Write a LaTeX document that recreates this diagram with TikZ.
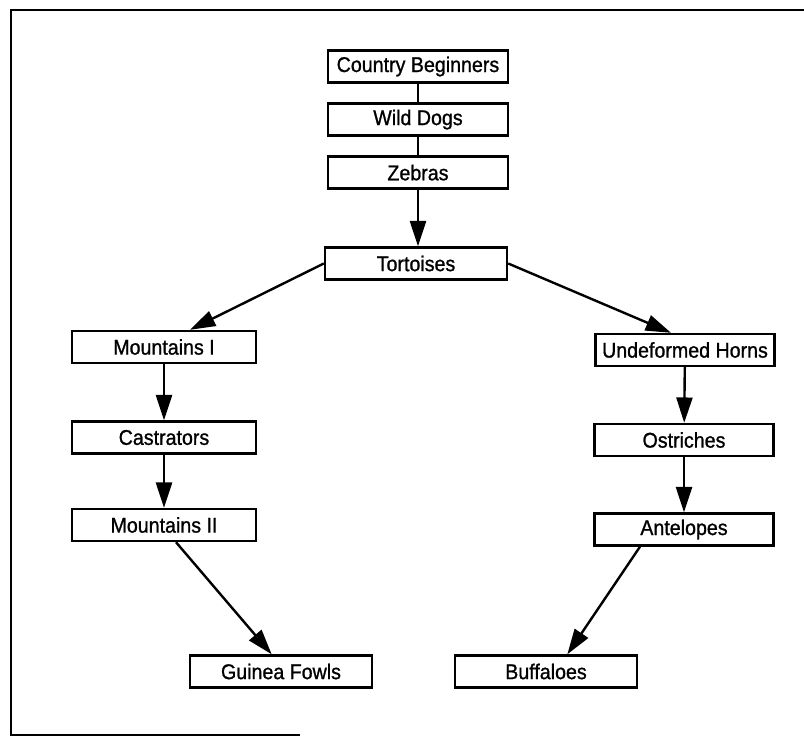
\documentclass[tikz,border=0pt]{standalone}
\usepackage{fontspec}
\setmainfont[FakeStretch=0.92,FakeBold=1]{Liberation Sans}
\usetikzlibrary{arrows.meta,positioning}

\begin{document}
\begin{tikzpicture}[
  x=0.75pt,y=-0.75pt,
  node distance=14pt,
  animal/.style={draw,line width=1.8pt,minimum height=24pt,inner sep=1pt,font=\fontsize{16}{18}\selectfont},
  link/.style={line width=1.6pt},
  flow/.style={line width=1.8pt,-{Triangle[length=19pt,width=12pt]}}
]
  \useasboundingbox (0,0) rectangle (804,741);
  % frame of the scanned page
  \draw[line width=1.8pt] (804,10) -- (11,10) -- (11,735) -- (300,735);

  % trunk
  \node[animal,minimum width=135pt] (country) at (418,66.5) {Country Beginners};
  \node[animal,minimum width=135pt,below=of country] (wilddogs) {Wild Dogs};
  \node[animal,minimum width=135pt,below=of wilddogs] (zebras) {Zebras};
  \node[animal,minimum width=136.5pt] (tortoises) at (416,263.5) {Tortoises};

  % left branch
  \node[animal,minimum width=138pt] (mountainsI) at (164,347) {Mountains I};
  \node[animal,minimum width=138pt] (castrators) at (164,437.5) {Castrators};
  \node[animal,minimum width=138pt] (mountainsII) at (164,525) {Mountains II};
  \node[animal,minimum width=136.5pt] (guinea) at (281,671.5) {Guinea Fowls};

  % right branch
  \node[animal,minimum width=134pt] (horns) at (685,350) {Undeformed Horns};
  \node[animal,minimum width=134pt] (ostriches) at (684,440) {Ostriches};
  \node[animal,minimum width=134pt] (antelopes) at (684,529.5) {Antelopes};
  \node[animal,minimum width=136.5pt] (buffaloes) at (546,671.5) {Buffaloes};

  \draw[link] (country) -- (wilddogs);
  \draw[link] (wilddogs) -- (zebras);
  \draw[flow] (zebras) -- (zebras |- tortoises.north);
  \draw[flow] (tortoises.west) -- ([xshift=19.5pt]mountainsI.north);
  \draw[flow] (tortoises.east) -- ([xshift=-10.5pt]horns.north);
  \draw[flow] (mountainsI) -- (castrators);
  \draw[flow] (castrators) -- (mountainsII);
  \draw[flow] ([xshift=9pt]mountainsII.south) -- ([xshift=-7pt]guinea.north);
  \draw[flow] (horns) -- (ostriches);
  \draw[flow] (ostriches) -- (antelopes);
  \draw[flow] ([xshift=-33pt]antelopes.south) -- ([xshift=16pt]buffaloes.north);
\end{tikzpicture}
\end{document}
